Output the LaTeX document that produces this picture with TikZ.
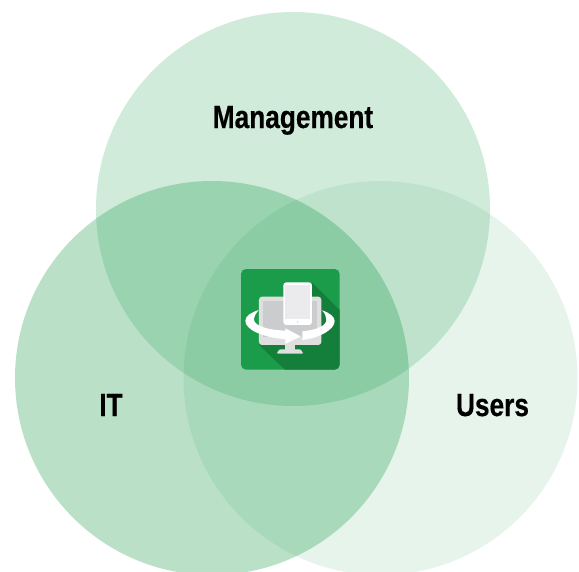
\documentclass[tikz,border=0pt]{standalone}
\usepackage{fontspec}
\newfontfamily\labfont[UprightFont=* Bold,FakeStretch=0.82,FakeBold=0.5]{Liberation Sans}
\definecolor{venngreen}{HTML}{1B9C4B}
\definecolor{icongreen}{HTML}{1B9C4B}
\definecolor{iconshadow}{HTML}{137F3A}
\definecolor{screengrey}{HTML}{CBCCCE}
\definecolor{devicegrey}{HTML}{DFDFE0}
\definecolor{tabletscreen}{HTML}{EBEBED}
\tikzset{
  venn/.style={fill=venngreen,draw=none},
  vennlabel/.style={font=\labfont\fontsize{32}{32}\selectfont,text=black,inner sep=0pt,anchor=base},
}
\begin{document}
\begin{tikzpicture}[x=1pt,y=-1pt]
\useasboundingbox (0,0) rectangle (579,571);
\clip (0,0) rectangle (579,571);
\fill[white] (0,0) rectangle (579,571);
\fill[venn,fill opacity=0.10] (380.5,378) circle (197);
\fill[venn,fill opacity=0.20] (293,209) circle (197);
\fill[venn,fill opacity=0.30] (212,378) circle (197);
\node[vennlabel] (mgmt) at (293,128) {Management};
\node[vennlabel] (it) at (111,416) {IT};
\node[vennlabel] (users) at (492.5,416) {Users};
% icon, coordinates are those of the 3x zoom
\begin{scope}[shift={(230,260)},x=0.3333pt,y=-0.3333pt]
  \begin{scope}
    \clip[rounded corners=5] (33,27) rectangle (329,329);
    \fill[icongreen] (33,27) rectangle (329,329);
    \fill[iconshadow] (246,67) -- (329,150) -- (329,329) -- (165,329) -- (87,255) -- (220,140) -- cycle;
  \end{scope}
  % monitor
  \fill[devicegrey] (165,255) rectangle (195,270);
  \fill[devicegrey,rounded corners=1] (140,281) -- (148,268) -- (212,268) -- (220,281) -- cycle;
  \fill[devicegrey,rounded corners=3] (87,110) rectangle (274,255);
  \fill[screengrey] (100,122) rectangle (262,232);
  % ring
  \fill[white] (168,238) .. controls (95,232) and (46,208) .. (46,183)
     .. controls (46,168) and (62,158) .. (86,150)
     .. controls (78,160) and (72,170) .. (72,178)
     .. controls (72,195) and (105,210) .. (168,212) -- cycle;
  \fill[white] (276,151) .. controls (298,158) and (314,170) .. (314,183)
     .. controls (314,208) and (270,234) .. (217,240)
     -- (217,214) .. controls (262,210) and (289,196) .. (289,180)
     .. controls (289,170) and (285,160) .. (276,151) -- cycle;
  \fill[white] (166,205) -- (212,229) -- (166,252) -- cycle;
  % tablet
  \fill[white,rounded corners=3] (160,67) rectangle (246,195);
  \fill[tabletscreen] (166,76) rectangle (240,178);
  \fill[devicegrey] (203,186) circle (3);
\end{scope}
\end{tikzpicture}
\end{document}
